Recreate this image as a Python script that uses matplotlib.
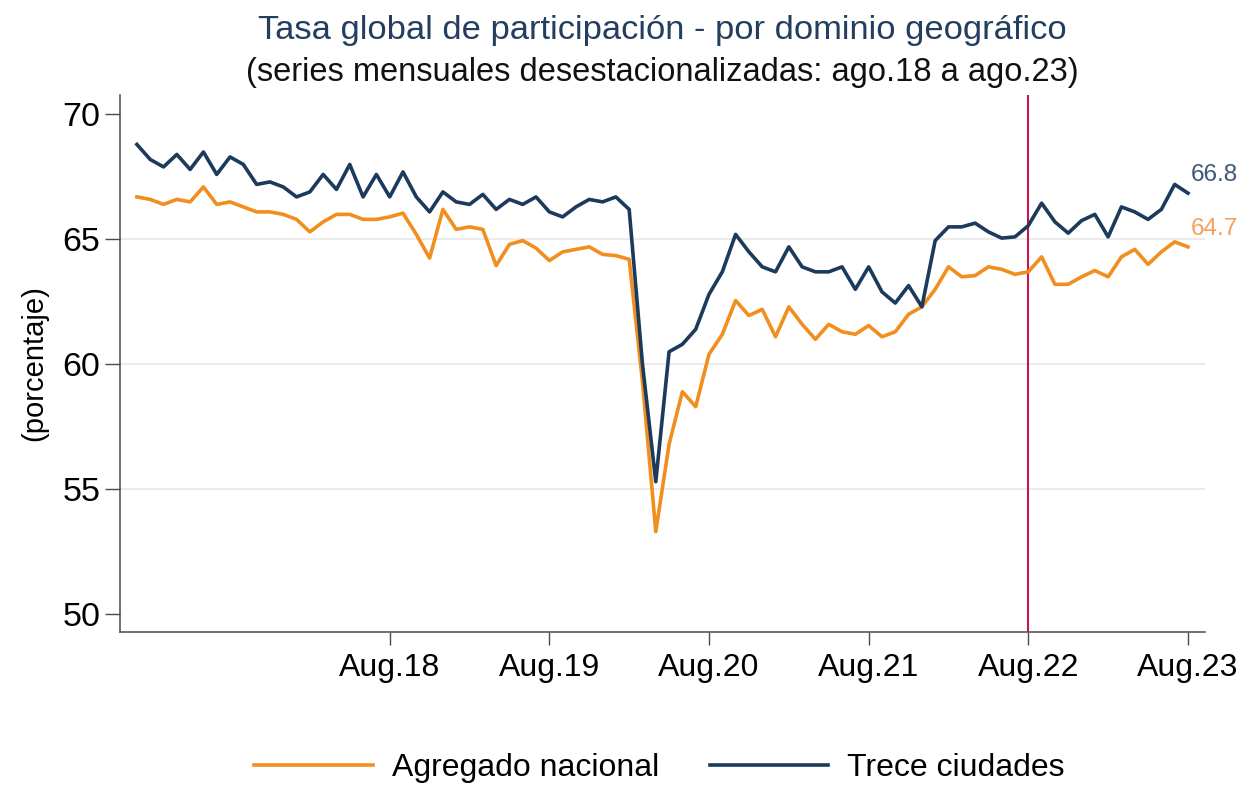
import matplotlib
matplotlib.use("Agg")
import matplotlib.pyplot as plt
import numpy as np
import pandas as pd

# ---- data -------------------------------------------------------------
months = pd.period_range("2017-01", "2023-08", freq="M")

trece_ciudades = [
    68.8, 68.2, 67.9, 68.4, 67.8, 68.5, 67.6, 68.3, 68.0, 67.2,
    67.3, 67.1, 66.7, 66.9, 67.6, 67.0, 68.0, 66.7, 67.6, 66.7,
    67.7, 66.7, 66.1, 66.9, 66.5, 66.4, 66.8, 66.2, 66.6, 66.4,
    66.7, 66.1, 65.9, 66.3, 66.6, 66.5, 66.7, 66.2, 60.0, 55.3,
    60.5, 60.8, 61.4, 62.8, 63.7, 65.2, 64.5, 63.9, 63.7, 64.7,
    63.9, 63.7, 63.7, 63.9, 63.0, 63.9, 62.9, 62.45, 63.15, 62.3,
    64.95, 65.5, 65.5, 65.65, 65.3, 65.05, 65.1, 65.55, 66.45, 65.7,
    65.25, 65.75, 66.0, 65.1, 66.3, 66.1, 65.8, 66.2, 67.2, 66.85,
]

agregado_nacional = [
    66.7, 66.6, 66.4, 66.6, 66.5, 67.1, 66.4, 66.5, 66.3, 66.1,
    66.1, 66.0, 65.8, 65.3, 65.7, 66.0, 66.0, 65.8, 65.8, 65.9,
    66.05, 65.2, 64.25, 66.2, 65.4, 65.5, 65.4, 63.95, 64.8, 64.95,
    64.65, 64.15, 64.5, 64.6, 64.7, 64.4, 64.35, 64.2, 59.3, 53.3,
    56.8, 58.9, 58.3, 60.4, 61.2, 62.55, 61.95, 62.2, 61.1, 62.3,
    61.6, 61.0, 61.6, 61.3, 61.2, 61.55, 61.1, 61.3, 62.0, 62.3,
    63.0, 63.9, 63.5, 63.55, 63.9, 63.8, 63.6, 63.7, 64.3, 63.2,
    63.2, 63.5, 63.75, 63.5, 64.3, 64.6, 64.0, 64.5, 64.9, 64.7,
]

tick_months = ["2018-08", "2019-08", "2020-08", "2021-08", "2022-08", "2023-08"]
tick_labels = ["Aug.18", "Aug.19", "Aug.20", "Aug.21", "Aug.22", "Aug.23"]
y_ticks = [50, 55, 60, 65, 70]
grid_levels = [55, 60, 65]
ref_month = "2022-08"
last_labels = ["66.8", "64.7"]

series_names = ["Agregado nacional", "Trece ciudades"]

# ---- style ------------------------------------------------------------
plt.rcParams['font.family'] = ['Liberation Sans', 'DejaVu Sans']

c_orange = "#F28E1E"
c_navy = "#1B3A5C"
c_red = "#C8174F"
c_axis = "#4a4a4a"

fig = plt.figure(figsize=(12.47, 7.86), dpi=100)
ax = fig.add_axes([120 / 1247, 1 - 632 / 786, (1205 - 120) / 1247, (632 - 95) / 786])

x = np.arange(len(months))
pos = {str(m): i for i, m in enumerate(months)}

for g in grid_levels:
    ax.axhline(g, color="#e9e9e9", lw=1.3, zorder=0)

ax.axvline(pos[ref_month], color=c_red, lw=1.5, zorder=1)

l1, = ax.plot(x, agregado_nacional, color=c_orange, lw=2.6, zorder=3,
              solid_joinstyle="round")
l2, = ax.plot(x, trece_ciudades, color=c_navy, lw=2.6, zorder=4,
              solid_joinstyle="round")

ax.annotate(last_labels[0], (x[-1], trece_ciudades[-1]), xytext=(2, 13),
            textcoords="offset points", color="#3d5878", fontsize=17.5,
            va="center", ha="left", annotation_clip=False)
ax.annotate(last_labels[1], (x[-1], agregado_nacional[-1]), xytext=(2, 13),
            textcoords="offset points", color="#F5A05A", fontsize=17.5,
            va="center", ha="left", annotation_clip=False)

ax.set_xlim(-1.27, len(months) - 1 + 1.28)
ax.set_ylim(49.28, 70.78)
ax.set_yticks(y_ticks)
ax.set_xticks([pos[m] for m in tick_months])
ax.set_xticklabels(tick_labels)

for s in ["top", "right"]:
    ax.spines[s].set_visible(False)
for s in ["left", "bottom"]:
    ax.spines[s].set_color(c_axis)
    ax.spines[s].set_linewidth(1.1)

ax.tick_params(axis="y", length=11, width=1.0, color=c_axis, labelsize=24.5, pad=3)
ax.tick_params(axis="x", length=9, width=1.0, color=c_axis, labelsize=23, pad=6)

ax.set_ylabel("(porcentaje)", fontsize=21, labelpad=10)

fig.text(0.531, 1 - 30 / 786, "Tasa global de participación - por dominio geográfico",
         ha="center", va="center", fontsize=24.8, color="#233e5e")
fig.text(0.531, 1 - 73 / 786, "(series mensuales desestacionalizadas: ago.18 a ago.23)",
         ha="center", va="center", fontsize=23.5, color="#111111")

fig.legend([l1, l2], series_names, loc="center", bbox_to_anchor=(0.529, 1 - 768 / 786),
           ncol=2, frameon=False, fontsize=23, handlelength=3.7, columnspacing=1.6,
           handletextpad=0.6)

fig.savefig("out.png", dpi=100, facecolor="white")
